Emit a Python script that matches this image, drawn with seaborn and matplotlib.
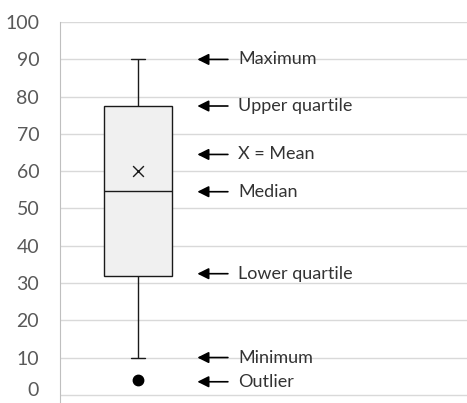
import matplotlib
matplotlib.use("Agg")
import matplotlib.pyplot as plt
import matplotlib.transforms as mtrans
import seaborn as sns
import pandas as pd

# Five-number summary (each point repeated so quartiles land exactly)
values = [4, 10, 32, 32, 54.7, 54.7, 77.5, 77.5, 90]
mean_value = 60
labels = ["Maximum", "Upper quartile", "X = Mean", "Median", "Lower quartile", "Minimum", "Outlier"]
label_y = [90, 77.5, 64.5, 54.5, 32.5, 10, 3.5]
yticks = list(range(0, 101, 10))

sns.set_style("white")
plt.rcParams["font.family"] = ["Lato", "DejaVu Sans"]

df = pd.DataFrame({"group": [0] * len(values), "value": values})

fig = plt.figure(figsize=(4.67, 4.03), dpi=100)
ax = fig.add_axes([0.1285, 0.0, 0.8715, 0.945])

sns.boxplot(data=df, x="group", y="value", native_scale=True, width=0.8, whis=0.5,
            color="#f0f0f0", linecolor="#1a1a1a", linewidth=1.0,
            flierprops=dict(marker="o", markerfacecolor="black", markeredgecolor="black",
                            markersize=7.5),
            ax=ax)
# narrower whisker caps
for cont in ax.containers:
    if hasattr(cont, "caps"):
        for cap in cont.caps:
            xd = cap.get_xdata()
            c = (xd[0] + xd[1]) / 2
            cap.set_xdata([c - 0.08, c + 0.08])

sns.scatterplot(x=[0], y=[mean_value], marker="x", s=60, color="#1a1a1a", linewidth=1.0, ax=ax,
                zorder=5)

for lab, yv in zip(labels, label_y):
    ax.annotate("", xy=(0.70, yv), xytext=(1.06, yv),
                arrowprops=dict(arrowstyle="-|>", color="black", lw=1.2,
                                mutation_scale=17, shrinkA=0, shrinkB=0))
    ax.text(1.18, yv, lab, va="center", ha="left", fontsize=13, color="#333333")

ax.set_xlim(-0.92, 3.88)
ax.set_ylim(-2.2, 100)
ax.set_yticks(yticks)
ax.set_xticks([])
ax.set_xlabel("")
ax.set_ylabel("")
ax.yaxis.grid(True, color="#d9d9d9", linewidth=1.0)
ax.set_axisbelow(True)
for s in ["top", "right", "bottom"]:
    ax.spines[s].set_visible(False)
ax.spines["left"].set_color("#bfbfbf")
ax.tick_params(axis="y", length=0, pad=15, labelsize=14, labelcolor="#595959")

# lift the bottom "0" label slightly so it sits inside the figure
fig.canvas.draw()
zero_tick = ax.yaxis.get_major_ticks()[0]
zero_tick.label1.set_transform(zero_tick.label1.get_transform()
                               + mtrans.ScaledTranslation(0, 4 / 72, fig.dpi_scale_trans))

fig.savefig("out.png", dpi=100)
